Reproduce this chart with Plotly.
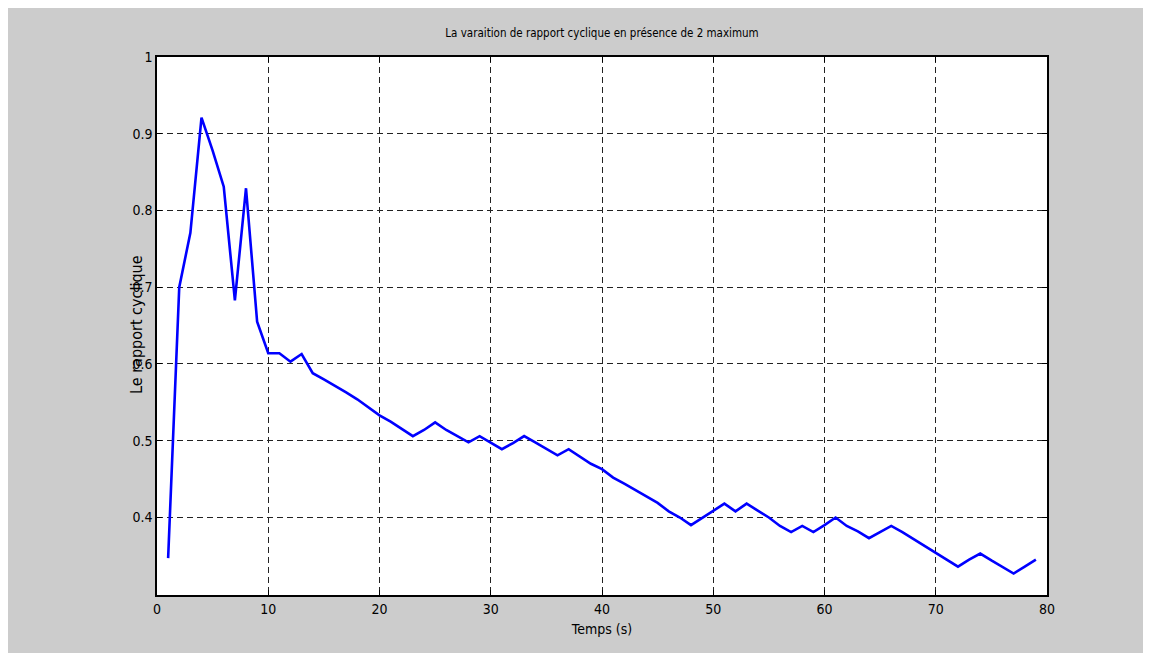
import plotly.graph_objects as go

temps = list(range(1, 80))
rapport = [
    0.347, 0.700, 0.771, 0.921, 0.878, 0.831, 0.683, 0.829, 0.655, 0.614,
    0.614, 0.603, 0.613, 0.588, 0.580, 0.572, 0.563, 0.554, 0.544, 0.533,
    0.525, 0.515, 0.506, 0.514, 0.524, 0.514, 0.506, 0.498, 0.506, 0.498,
    0.489, 0.497, 0.506, 0.498, 0.489, 0.481, 0.489, 0.480, 0.470, 0.463,
    0.452, 0.444, 0.436, 0.427, 0.419, 0.408, 0.400, 0.390, 0.399, 0.408,
    0.418, 0.408, 0.418, 0.409, 0.400, 0.389, 0.381, 0.389, 0.381, 0.390,
    0.400, 0.389, 0.382, 0.373, 0.381, 0.389, 0.381, 0.372, 0.363, 0.354,
    0.345, 0.336, 0.345, 0.353, 0.344, 0.336, 0.327, 0.336, 0.345,
]
x_ticks = [0, 10, 20, 30, 40, 50, 60, 70, 80]
y_ticks = [0.4, 0.5, 0.6, 0.7, 0.8, 0.9, 1]
y_tick_labels = ["0.4", "0.5", "0.6", "0.7", "0.8", "0.9", "1"]

title_text = "La varaition de rapport cyclique en présence de 2 maximum"
x_title = "Temps (s)"
y_title = "Le rapport cyclique"

FONT = "Liberation Sans Narrow, DejaVu Sans Condensed, Roboto Condensed, Arial Narrow, sans-serif"

fig = go.Figure()
fig.add_trace(go.Scatter(x=temps, y=rapport, mode="lines",
                         line=dict(color="#0000ff", width=2.6),
                         showlegend=False, hoverinfo="x+y"))

# page body has an 8px margin; the figure starts at (8, 8)
OFF = 8
W, H = 1151, 653 - OFF
L, R, T, B = 157 - OFF, 104 + OFF, 57 - OFF, 66 - OFF
pw, ph = W - L - R, H - T - B

def px_x(p):
    return (p - OFF - L) / pw

def px_y(p):
    return (H - B - (p - OFF)) / ph

axis_common = dict(
    showline=True, linecolor="black", linewidth=1.5, mirror="allticks",
    ticks="inside", ticklen=5, tickcolor="black", tickwidth=1,
    showgrid=True, gridcolor="#222222", gridwidth=1, griddash="6px,4px",
    zeroline=False,
    tickfont=dict(family=FONT, size=14, color="black"),
)

fig.update_xaxes(range=[0, 80], tickvals=x_ticks, ticktext=[str(v) for v in x_ticks],
                 title=dict(text=x_title, font=dict(family=FONT, size=14, color="black"),
                            standoff=9),
                 **axis_common)
fig.update_yaxes(range=[0.299, 1], tickvals=y_ticks, ticktext=y_tick_labels,
                 **axis_common)

fig.update_layout(
    width=W, height=H,
    margin=dict(l=L, r=R, t=T, b=B, pad=0),
    paper_bgcolor="#cccccc", plot_bgcolor="white",
    title=dict(text=title_text, x=0.5, xanchor="center", xref="paper",
               y=1 - (33 - OFF) / H, yanchor="middle",
               font=dict(family=FONT, size=11.5, color="black")),
    annotations=[dict(text=y_title, textangle=-90, xref="paper", yref="paper",
                      x=px_x(136), y=px_y(325), showarrow=False,
                      xanchor="center", yanchor="middle",
                      font=dict(family=FONT, size=16, color="black"))],
)

fig.write_html("out.html")
